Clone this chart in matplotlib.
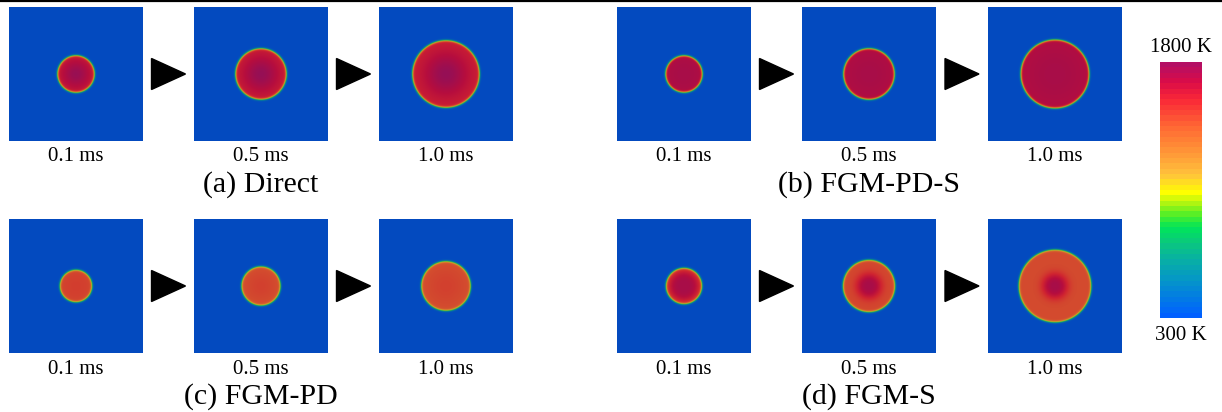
import numpy as np
import matplotlib
matplotlib.use("Agg")
import matplotlib.pyplot as plt
from matplotlib.colors import LinearSegmentedColormap, Normalize
from matplotlib.patches import Polygon
from matplotlib.lines import Line2D
import matplotlib.cm as cm

plt.rcParams['font.family'] = ['Liberation Serif', 'DejaVu Serif']

# ---------------- data ----------------
times = ["0.1 ms", "0.5 ms", "1.0 ms"]
methods = ["(a) Direct", "(b) FGM-PD-S", "(c) FGM-PD", "(d) FGM-S"]
T_min, T_max = 300, 1800
cbar_labels = ["1800 K", "300 K"]

# flame radius (fraction of domain width) at each time
radius_direct = [0.138, 0.190, 0.250]
radius_pds = [0.137, 0.190, 0.255]
radius_pd = [0.120, 0.145, 0.184]
radius_s = [0.134, 0.194, 0.270]
# core temperature (K)
tcore_direct = [1790, 1800, 1800]
tcore_pds = [1740, 1740, 1740]
tcore_pd = [1510, 1500, 1500]
tcore_s = [1740, 1740, 1740]
# outer (near-front) burnt temperature (K)
tout_direct = [1610, 1600, 1600]
tout_pds = [1690, 1680, 1670]
tout_pd = [1470, 1440, 1440]
tout_s = [1500, 1480, 1470]
# core width as fraction of flame radius
corefrac_direct = [0.75, 0.70, 0.65]
corefrac_pds = [1.2, 1.2, 1.2]
corefrac_pd = [1.0, 0.9, 0.9]
corefrac_s = [0.85, 0.50, 0.36]
# core profile sharpness exponent
coreexp_direct = [2, 2, 2]
coreexp_pds = [2, 2, 2]
coreexp_pd = [2, 2, 2]
coreexp_s = [4, 3, 3]

cases = [
    (radius_direct, tcore_direct, tout_direct, corefrac_direct, coreexp_direct),
    (radius_pds, tcore_pds, tout_pds, corefrac_pds, coreexp_pds),
    (radius_pd, tcore_pd, tout_pd, corefrac_pd, coreexp_pd),
    (radius_s, tcore_s, tout_s, corefrac_s, coreexp_s),
]

# ---------------- colormap ----------------
cstops = [
    (0.00, (0, 96, 255)),
    (0.06, (2, 120, 232)),
    (0.14, (5, 150, 200)),
    (0.22, (8, 175, 165)),
    (0.29, (10, 200, 125)),
    (0.35, (0, 228, 90)),
    (0.40, (80, 238, 40)),
    (0.45, (180, 245, 15)),
    (0.49, (255, 255, 0)),
    (0.56, (255, 195, 60)),
    (0.65, (255, 150, 55)),
    (0.75, (255, 105, 52)),
    (0.86, (250, 40, 55)),
    (0.93, (218, 12, 72)),
    (1.00, (180, 15, 100)),
]
cmap = LinearSegmentedColormap.from_list(
    "temp", [(p, tuple(v / 255 for v in c)) for p, c in cstops], N=48)


def shade_of(p):
    return 0.74 + 0.08 * min(1.0, p / 0.3)


cmap_panel = LinearSegmentedColormap.from_list(
    "temp_shade",
    [(p, tuple(min(1, v * shade_of(p) / 255 + 0.012) for v in c)) for p, c in cstops],
    N=256)
norm = Normalize(T_min, T_max)

# ---------------- figure ----------------
W, H = 1222, 412
fig = plt.figure(figsize=(W / 100, H / 100), dpi=100)


def px_rect(x, y, w, h):
    return [x / W, 1 - (y + h) / H, w / W, h / H]


col_x = [[9, 194, 379], [617, 802, 988]]
row_y = [7, 219]
pw = 134

n = 400
g = (np.arange(n) + 0.5) / n - 0.5
X, Y = np.meshgrid(g, g)
R = np.hypot(X, Y)

for k, (rad, tc, to, cf, ce) in enumerate(cases):
    gi, ri = k % 2, k // 2
    for j in range(3):
        x0, y0 = col_x[gi][j], row_y[ri]
        ax = fig.add_axes(px_rect(x0, y0, pw, pw))
        Rf = rad[j]
        Tin = to[j] + (tc[j] - to[j]) * np.exp(-(R / (cf[j] * Rf)) ** ce[j])
        front = 0.5 * (1 - np.tanh((R - Rf) / 0.0085))
        T = T_min + (Tin - T_min) * front
        ax.imshow(T, cmap=cmap_panel, norm=norm, interpolation='bilinear',
                  extent=(-0.5, 0.5, -0.5, 0.5))
        ax.set_axis_off()
        fig.text((x0 + pw / 2) / W, 1 - (y0 + pw + 16) / H, times[j],
                 ha='center', va='center', fontsize=15)
        if j < 2:
            gx0 = x0 + pw
            gx1 = col_x[gi][j + 1]
            cx = (gx0 + gx1) / 2
            cy = y0 + pw / 2
            tri = np.array([[cx - 17, cy - 15.5], [cx + 17, cy], [cx - 17, cy + 15.5]])
            tri_fig = np.column_stack([tri[:, 0] / W, 1 - tri[:, 1] / H])
            fig.add_artist(Polygon(tri_fig, closed=True, color='black',
                                   transform=fig.transFigure))
    xm = col_x[gi][1] + pw / 2
    fig.text(xm / W, 1 - (row_y[ri] + pw + 44) / H, methods[k],
             ha='center', va='center', fontsize=21.5)

# colorbar
cax = fig.add_axes(px_rect(1160, 62, 42, 256))
cb = fig.colorbar(cm.ScalarMappable(norm=norm, cmap=cmap), cax=cax)
cb.outline.set_visible(False)
cb.set_ticks([])
fig.text(1181 / W, 1 - 47 / H, cbar_labels[0], ha='center', va='center', fontsize=15)
fig.text(1181 / W, 1 - 336 / H, cbar_labels[1], ha='center', va='center', fontsize=15)

# top rule
fig.add_artist(Line2D([0, 1], [1 - 1.2 / H, 1 - 1.2 / H], color='black', lw=1.6,
                      transform=fig.transFigure))

fig.savefig("out.png", dpi=100)
